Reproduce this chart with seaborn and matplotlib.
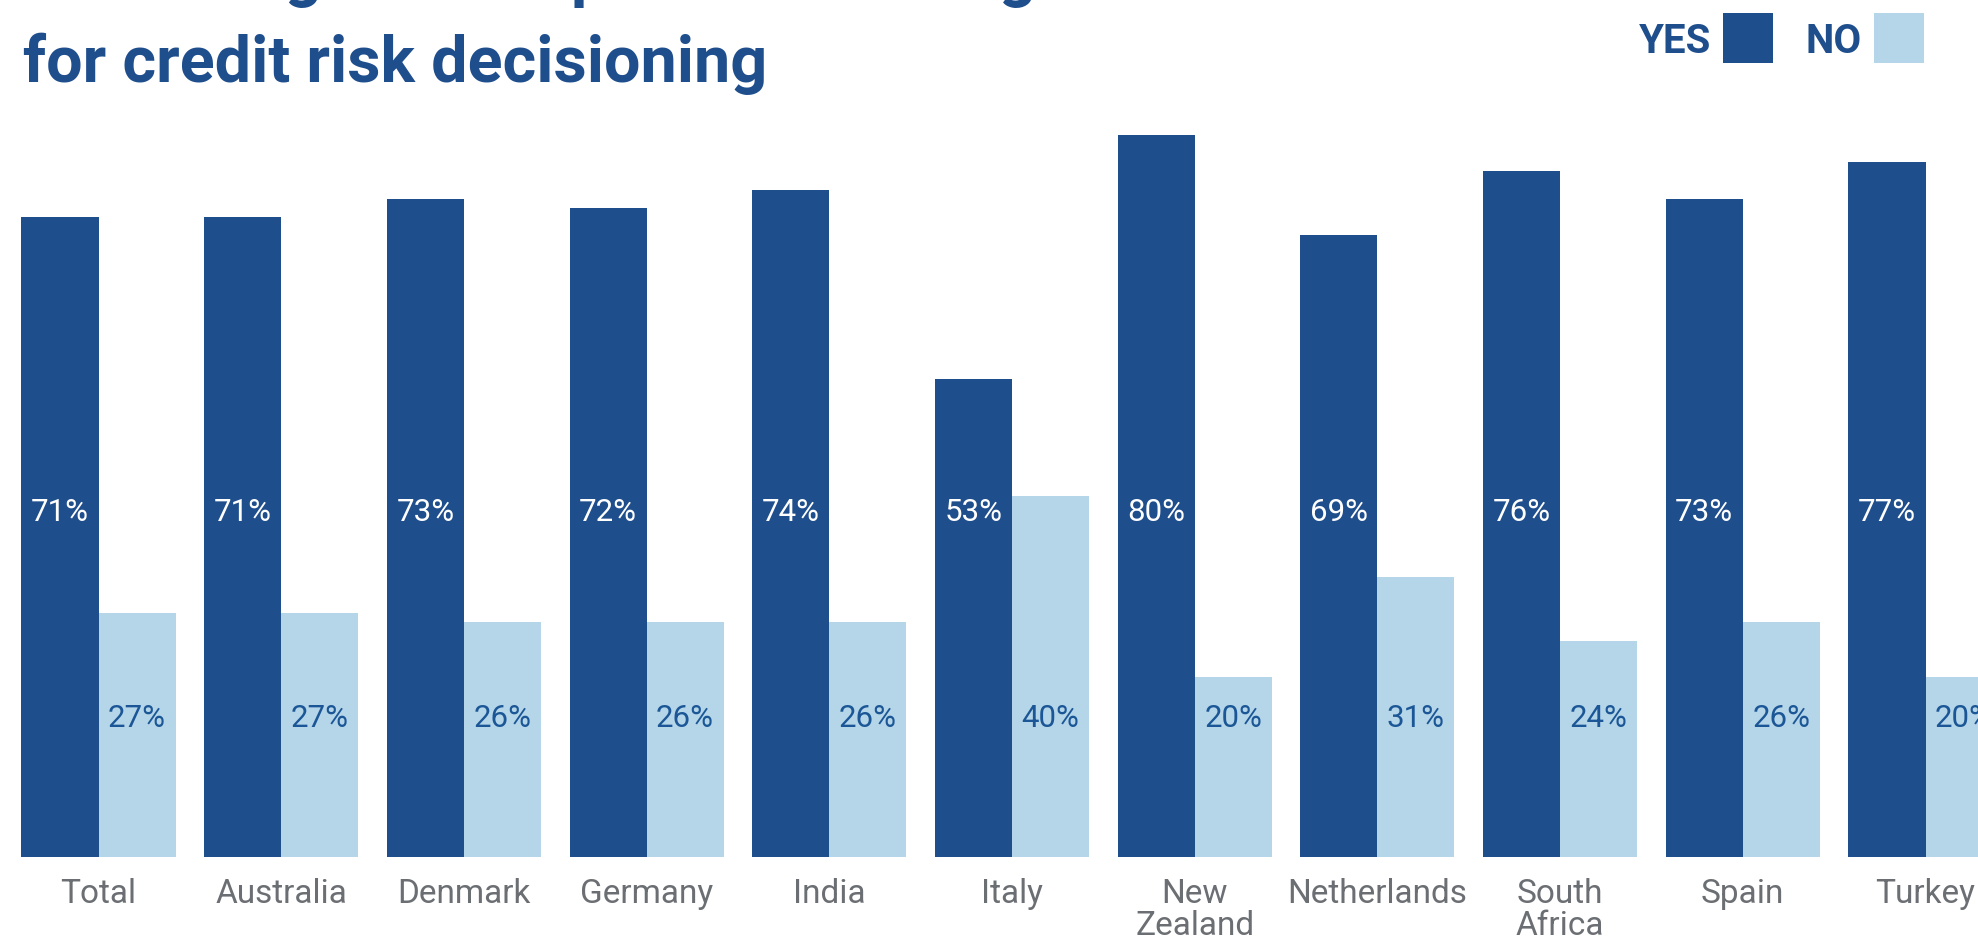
import matplotlib
matplotlib.use("Agg")
import matplotlib.pyplot as plt
from matplotlib.patches import Rectangle
import seaborn as sns
import pandas as pd

# Survey answers by market (percent of respondents)
countries = ["Total", "Australia", "Denmark", "Germany", "India", "Italy",
             "New Zealand", "Netherlands", "South Africa", "Spain", "Turkey"]
tick_labels = ["Total", "Australia", "Denmark", "Germany", "India", "Italy",
               "New\nZealand", "Netherlands", "South\nAfrica", "Spain", "Turkey"]
yes_values = [71, 71, 73, 72, 74, 53, 80, 69, 76, 73, 77]
no_values = [27, 27, 26, 26, 26, 40, 20, 31, 24, 26, 20]
answers = ["YES", "NO"]

title_line1 = "Percentage that expect to be using"
title_line2 = "for credit risk decisioning"

DARK = "#1f4e8d"
LIGHT = "#b5d5e9"
NO_TEXT = "#1b5796"
GREY = "#6b6e72"

df = pd.DataFrame({
    "country": countries * 2,
    "answer": [answers[0]] * len(countries) + [answers[1]] * len(countries),
    "value": yes_values + no_values,
})

sns.set_theme(style="white")
plt.rcParams["font.family"] = ["Roboto", "DejaVu Sans"]

W, H = 1978, 941
fig = plt.figure(figsize=(W / 100, H / 100), dpi=100)

# plot area spans the full width; the right-most group runs off the edge
px_per_cat = 182.7
x0_px = 98.5
base_px = 857.0
px_per_pct = 9.02
ax = fig.add_axes([0, (H - base_px) / H, 1, base_px / H])

sns.barplot(data=df, x="country", y="value", hue="answer", order=countries,
            hue_order=answers, palette=[DARK, LIGHT], width=0.843, gap=0,
            saturation=1, edgecolor="none", linewidth=0, legend=False, ax=ax)

ax.set_xlim(-x0_px / px_per_cat, (W - x0_px) / px_per_cat)
ax.set_ylim(0, base_px / px_per_pct)
ax.set_xlabel("")
ax.set_ylabel("")
ax.set_yticks([])
ax.set_xticks(range(len(countries)))
ax.set_xticklabels(tick_labels, fontsize=24, color=GREY, linespacing=1.0)
ax.tick_params(axis="x", length=0, pad=15)
for s in ax.spines.values():
    s.set_visible(False)

half = 0.843 / 4
for i, (y, n) in enumerate(zip(yes_values, no_values)):
    ax.text(i - half, 38.2, f"{y}%", ha="center", va="center",
            fontsize=22.5, color="white")
    ax.text(i + half, 15.4, f"{n}%", ha="center", va="center",
            fontsize=22.5, color=NO_TEXT)

# title (first line runs above the top edge)
fig.text(23 / W, 1 - 82 / H, title_line2, fontsize=46.5, fontweight="bold",
         color=DARK, ha="left", va="baseline")
fig.text(23 / W, 1 - (-5) / H, title_line1, fontsize=46.5, fontweight="bold",
         color=DARK, ha="left", va="baseline")

# legend: label to the left of a colour square
for label, color, tx, sx in [("YES", DARK, 1711, 1723), ("NO", LIGHT, 1862, 1874)]:
    fig.text(tx / W, 1 - 42 / H, label, fontsize=29, fontweight="bold",
             color=DARK, ha="right", va="center")
    fig.patches.append(Rectangle((sx / W, 1 - 63 / H), 50 / W, 50 / H,
                                 transform=fig.transFigure, facecolor=color,
                                 edgecolor="none"))

fig.savefig("out.png", dpi=100, facecolor="white")
